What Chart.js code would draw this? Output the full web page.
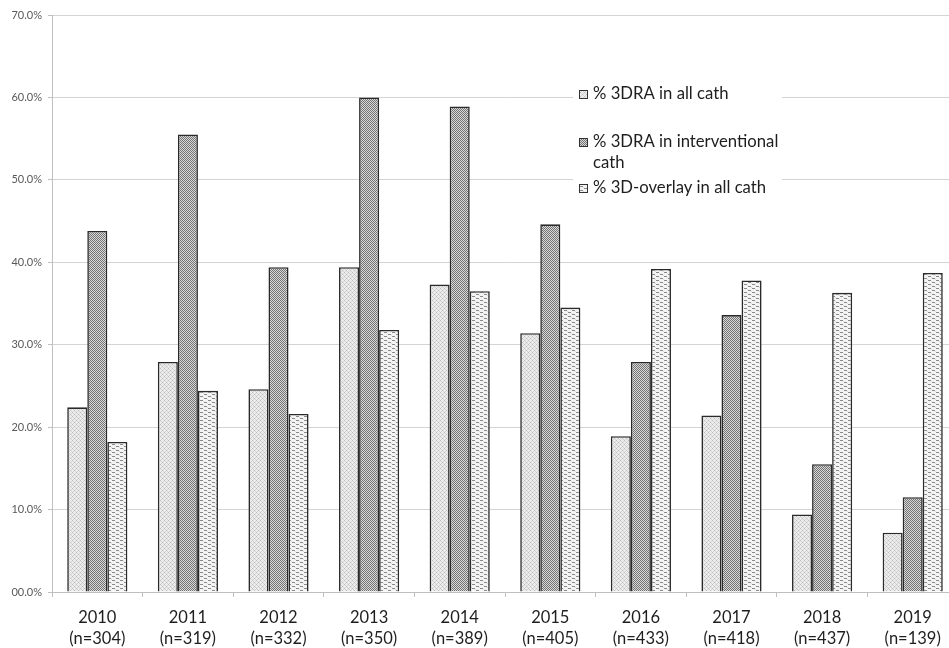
<!DOCTYPE html>
<html>
<head>
<meta charset="utf-8">
<script src="https://cdn.jsdelivr.net/npm/chart.js@4"></script>
<style>
  html, body { margin: 0; padding: 0; background: #fff; overflow: hidden; }
  #wrap { width: 958px; height: 648px; }
</style>
</head>
<body>
<div id="wrap"><canvas id="c" width="958" height="648"></canvas></div>
<script>
// Years and number of catheterisations per year
const years = ['2010', '2011', '2012', '2013', '2014', '2015', '2016', '2017', '2018', '2019'];
const caseCounts = [304, 319, 332, 350, 389, 405, 433, 418, 437, 139];

// Percentages per year
const pct3draAll = [22.4, 27.9, 24.6, 39.4, 37.3, 31.4, 18.9, 21.4, 9.4, 7.2];
const pct3draInterventional = [43.8, 55.5, 39.4, 60.0, 58.9, 44.6, 27.9, 33.6, 15.5, 11.5];
const pctOverlayAll = [18.2, 24.4, 21.6, 31.8, 36.5, 34.5, 39.2, 37.8, 36.3, 38.7];

const seriesNames = ['% 3DRA in all cath', '% 3DRA in interventional cath', '% 3D-overlay in all cath'];

// Fill textures for the bars
function makePattern(w, h, base, dots) {
  const cv = document.createElement('canvas');
  cv.width = w; cv.height = h;
  const g = cv.getContext('2d');
  g.fillStyle = base;
  g.fillRect(0, 0, w, h);
  dots.forEach(([x, y, col]) => { g.fillStyle = col; g.fillRect(x, y, 1, 1); });
  return g.createPattern(cv, 'repeat');
}
const ctx = document.getElementById('c').getContext('2d');

// light speckle
const patLight = makePattern(4, 4, '#ececec', [
  [0, 0, '#bdbdbd'], [2, 2, '#bdbdbd'], [1, 1, '#d2d2d2'], [3, 3, '#d2d2d2'],
  [1, 3, '#d6d6d6'], [3, 1, '#d6d6d6']
]);
// dark checker
const patDark = makePattern(2, 2, '#d9d9d9', [[0, 0, '#737373'], [1, 1, '#737373']]);
// short horizontal dashes
const patDash = makePattern(8, 4, '#f4f4f4', [
  [0, 0, '#8a8a8a'], [1, 0, '#8a8a8a'], [2, 0, '#8a8a8a'],
  [4, 2, '#8a8a8a'], [5, 2, '#8a8a8a'], [6, 2, '#8a8a8a'],
  [3, 1, '#dcdcdc'], [7, 3, '#dcdcdc']
]);
const fills = [patLight, patDark, patDash];

const labels = years.map((y, i) => [y, '(n=' + caseCounts[i] + ')']);
const FONT = 'Lato, "Open Sans", sans-serif';

// Legend drawn inside the plot, on a white panel
const innerLegend = {
  id: 'innerLegend',
  afterDatasetsDraw(chart) {
    const c = chart.ctx;
    c.save();
    c.fillStyle = '#ffffff';
    c.fillRect(573, 82, 209, 120);
    c.font = '16.7px ' + FONT;
    c.textBaseline = 'middle';
    const rows = [
      { y: 94, lines: ['% 3DRA in all cath'] },
      { y: 142, lines: ['% 3DRA in interventional', 'cath'] },
      { y: 188, lines: ['% 3D-overlay in all cath'] }
    ];
    rows.forEach((r, i) => {
      c.fillStyle = fills[i];
      c.fillRect(579, r.y - 4, 9, 9);
      c.strokeStyle = '#333333';
      c.lineWidth = 1;
      c.strokeRect(579.5, r.y - 3.5, 8, 8);
      c.fillStyle = '#1e1e1e';
      r.lines.forEach((t, k) => c.fillText(t, 593, r.y + k * 21));
    });
    c.restore();
  }
};

new Chart(ctx, {
  type: 'bar',
  data: {
    labels: labels,
    datasets: [pct3draAll, pct3draInterventional, pctOverlayAll].map((d, i) => ({
      label: seriesNames[i],
      data: d,
      backgroundColor: fills[i],
      borderColor: '#2a2a2a',
      borderWidth: 1.6,
      borderSkipped: 'bottom',
      categoryPercentage: 0.664,
      barPercentage: 1.0
    }))
  },
  options: {
    responsive: false,
    animation: false,
    layout: { padding: { top: 15, right: 0, left: 0, bottom: 0 } },
    plugins: {
      legend: { display: false },
      tooltip: { enabled: false }
    },
    scales: {
      x: {
        grid: { offset: true, drawOnChartArea: false, drawTicks: true, tickLength: 5, tickColor: '#bfbfbf' },
        border: { color: '#bfbfbf', width: 1 },
        ticks: { color: '#1e1e1e', font: { family: FONT, size: 16.5, lineHeight: 1.22 }, padding: 11, maxRotation: 0, autoSkip: false },
        afterFit(s) { s.height = 56; }
      },
      y: {
        min: 0, max: 70,
        ticks: {
          stepSize: 10,
          color: '#595959',
          font: { family: FONT, size: 11 },
          padding: 6,
          callback: v => (v < 10 ? '0' : '') + Number(v).toFixed(1) + '%'
        },
        grid: { color: '#d4d4d4', lineWidth: 1, tickLength: 4, tickColor: '#bfbfbf' },
        border: { color: '#bfbfbf', width: 1 },
        afterFit(s) { s.width = 52; }
      }
    }
  },
  plugins: [innerLegend]
});
</script>
</body>
</html>
